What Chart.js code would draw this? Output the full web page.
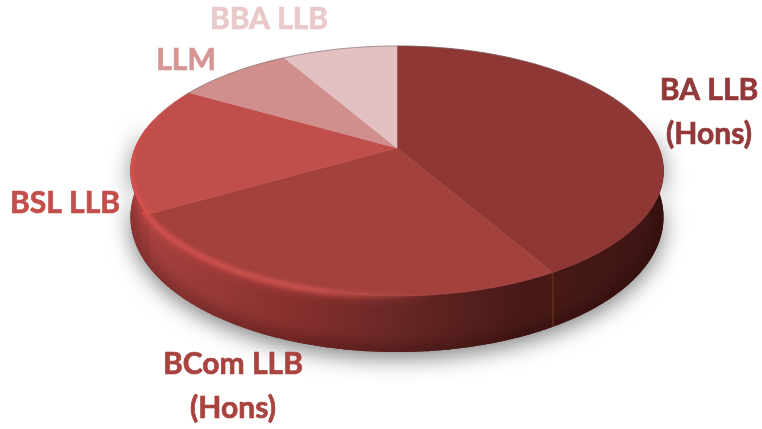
<!DOCTYPE html>
<html>
<head>
<meta charset="utf-8">
<style>
  html, body { margin: 0; padding: 0; background: #fff; }
  canvas { display: block; }
</style>
<script src="https://cdn.jsdelivr.net/npm/chart.js@4/dist/chart.umd.min.js"></script>
</head>
<body>
<canvas id="pie3d" width="762" height="429"></canvas>
<script>
const categories = ['BA LLB (Hons)', 'BCom LLB (Hons)', 'BSL LLB', 'LLM', 'BBA LLB'];
const shares = [5, 3, 2, 1, 1];
const sliceColors = ['#8e3735', '#a3413d', '#c04e4a', '#d08e8d', '#e3c0c1'];
const labelColors = ['#93393a', '#a8433f', '#c24f4c', '#d69594', '#e9c9c9'];

// tilt of the disc: the pie is a flat circle, these squash it with some perspective
const TILT = { p: -0.184, sx: 1.77, sy: 0.816, depth: 44, depthFront: 12 };

// where each label goes, and how it breaks
const labelSpots = [
  { lines: ['BA LLB', '(Hons)'], x: 709, y: 90 },
  { lines: ['BCom LLB', '(Hons)'], x: 233, y: 364 },
  { lines: ['BSL LLB'], x: 65, y: 203 },
  { lines: ['LLM'], x: 186, y: 60 },
  { lines: ['BBA LLB'], x: 269, y: 19 }
];

function project(arc, a, drop) {
  const u = Math.cos(a), v = Math.sin(a);
  const w = 1 + TILT.p * v;
  return {
    x: arc.x + arc.outerRadius * TILT.sx * u / w,
    y: arc.y + arc.outerRadius * TILT.sy * v / w + (drop ? TILT.depth + TILT.depthFront * v : 0)
  };
}

function traceEdge(ctx, arc, from, to, drop, first) {
  const steps = Math.max(2, Math.ceil(Math.abs(to - from) / 0.01));
  for (let i = 0; i <= steps; i++) {
    const p = project(arc, from + (to - from) * i / steps, drop);
    if (i === 0 && first) ctx.moveTo(p.x, p.y);
    else ctx.lineTo(p.x, p.y);
  }
}

function wallPath(ctx, arc, from, to) {
  ctx.beginPath();
  traceEdge(ctx, arc, from, to, false, true);
  traceEdge(ctx, arc, to, from, true, false);
  ctx.closePath();
}

const pie3dPlugin = {
  id: 'pie3d',
  beforeDatasetDraw(chart, args) {
    const ctx = chart.ctx;
    const arcs = chart.getDatasetMeta(args.index).data;
    const first = arcs[0];
    const full = Math.PI * 2;

    // soft shadow under the disc
    ctx.save();
    ctx.shadowColor = 'rgba(0,0,0,0.5)';
    ctx.shadowBlur = 22;
    ctx.shadowOffsetY = 6;
    ctx.fillStyle = '#5a2220';
    wallPath(ctx, first, -0.2, Math.PI + 0.2);
    ctx.fill();
    ctx.restore();

    // side wall
    const wall = ctx.createLinearGradient(130, 0, 665, 0);
    wall.addColorStop(0, '#ab4342');
    wall.addColorStop(0.12, '#9c3c3a');
    wall.addColorStop(0.32, '#852f2d');
    wall.addColorStop(0.5, '#682725');
    wall.addColorStop(0.72, '#491a17');
    wall.addColorStop(1, '#3d1513');
    const rim = ctx.createLinearGradient(130, 0, 440, 0);
    rim.addColorStop(0, 'rgba(228,84,80,0.8)');
    rim.addColorStop(0.6, 'rgba(222,92,88,0.72)');
    rim.addColorStop(1, 'rgba(200,80,76,0)');

    ctx.save();
    wallPath(ctx, first, -0.25, Math.PI + 0.25);
    ctx.fillStyle = wall;
    ctx.fill();
    ctx.clip();
    // darker toward the bottom of the wall
    ctx.filter = 'blur(7px)';
    ctx.beginPath();
    traceEdge(ctx, first, -0.25, Math.PI + 0.25, true, true);
    ctx.strokeStyle = 'rgba(20,0,0,0.3)';
    ctx.lineWidth = 14;
    ctx.stroke();
    // and a bit lighter just under the rim, on the lit side
    ctx.filter = 'blur(4px)';
    ctx.beginPath();
    traceEdge(ctx, first, Math.PI * 0.45, Math.PI + 0.2, false, true);
    ctx.strokeStyle = rim;
    ctx.globalAlpha = 0.45;
    ctx.lineWidth = 12;
    ctx.stroke();
    ctx.globalAlpha = 1;
    ctx.filter = 'none';
    // seams where slices meet on the wall, the right one shows more
    arcs.forEach(arc => {
      const a = ((arc.startAngle % full) + full) % full;
      if (a > 0.05 && a < Math.PI - 0.05) {
        const t = project(arc, a, false), b = project(arc, a, true);
        ctx.beginPath();
        ctx.moveTo(t.x, t.y);
        ctx.lineTo(b.x, b.y);
        ctx.strokeStyle = t.x > arc.x ? 'rgba(110,60,20,0.55)' : 'rgba(110,40,30,0.15)';
        ctx.lineWidth = 2;
        ctx.stroke();
      }
    });
    ctx.restore();

    // top faces
    arcs.forEach(arc => {
      ctx.beginPath();
      const c = project(arc, arc.startAngle, false);
      ctx.moveTo(arc.x, arc.y);
      ctx.lineTo(c.x, c.y);
      traceEdge(ctx, arc, arc.startAngle, arc.endAngle, false, false);
      ctx.closePath();
      ctx.fillStyle = arc.options.backgroundColor;
      ctx.fill();
      ctx.strokeStyle = arc.options.backgroundColor;
      ctx.lineWidth = 0.6;
      ctx.stroke();
    });

    // bevel highlight along the front-left rim
    ctx.save();
    ctx.beginPath();
    traceEdge(ctx, first, 0, full, false, true);
    traceEdge(ctx, first, Math.PI * 0.05, Math.PI * 0.95, true, false);
    ctx.closePath();
    ctx.clip();
    ctx.filter = 'blur(2px)';
    ctx.beginPath();
    traceEdge(ctx, first, Math.PI * 0.45, Math.PI, false, true);
    ctx.strokeStyle = rim;
    ctx.lineWidth = 5;
    ctx.stroke();
    // the same highlight fades out going up the left side
    const rimUp = ctx.createLinearGradient(0, 175, 0, 100);
    rimUp.addColorStop(0, 'rgba(228,84,80,0.8)');
    rimUp.addColorStop(1, 'rgba(228,84,80,0)');
    ctx.beginPath();
    traceEdge(ctx, first, Math.PI, Math.PI + 0.5, false, true);
    ctx.strokeStyle = rimUp;
    ctx.stroke();
    ctx.restore();

    // thin grey line on the far edge
    ctx.beginPath();
    traceEdge(ctx, first, Math.PI + 0.5, Math.PI * 2 - 0.2, false, true);
    ctx.strokeStyle = 'rgba(110,100,100,0.55)';
    ctx.lineWidth = 1;
    ctx.stroke();

    return false;
  },
  afterDraw(chart) {
    const ctx = chart.ctx;
    ctx.save();
    ctx.font = 'bold 30px Lato';
    ctx.textAlign = 'center';
    ctx.textBaseline = 'middle';
    ctx.lineWidth = 0.7;
    labelSpots.forEach((spot, i) => {
      ctx.fillStyle = labelColors[i];
      ctx.strokeStyle = labelColors[i];
      spot.lines.forEach((line, n) => {
        ctx.fillText(line, spot.x, spot.y + n * 44);
        ctx.strokeText(line, spot.x, spot.y + n * 44);
      });
    });
    ctx.restore();
  }
};

new Chart(document.getElementById('pie3d'), {
  type: 'pie',
  data: {
    labels: categories,
    datasets: [{
      data: shares,
      backgroundColor: sliceColors,
      borderWidth: 0
    }]
  },
  options: {
    responsive: false,
    animation: false,
    layout: { padding: { left: 135, right: 103, top: 0, bottom: 133 } },
    plugins: {
      legend: { display: false },
      tooltip: { enabled: false }
    }
  },
  plugins: [pie3dPlugin]
});
</script>
</body>
</html>
